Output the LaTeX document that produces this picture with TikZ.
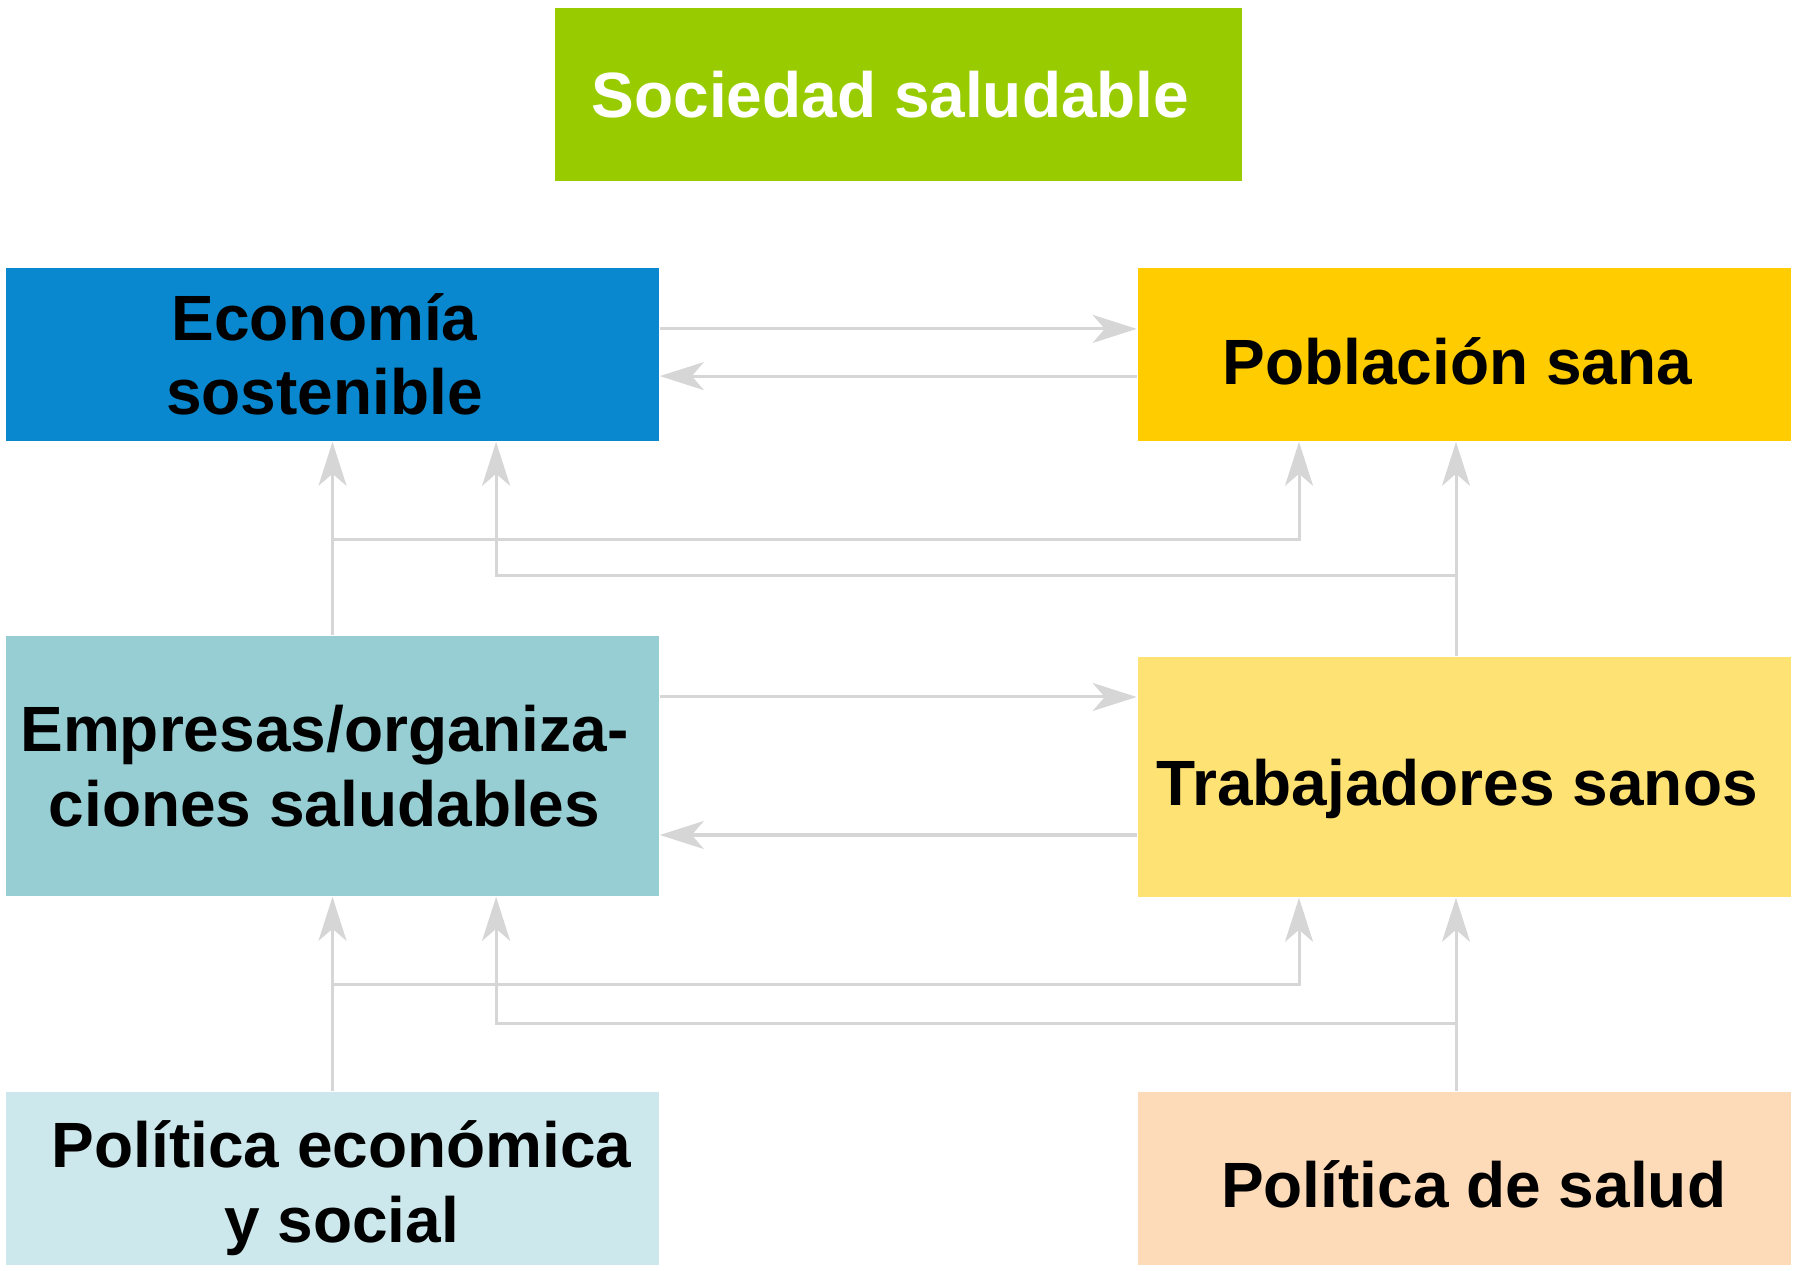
\documentclass[tikz,border=0pt]{standalone}
\usepackage{fontspec}
\setmainfont{Liberation Sans}
\usetikzlibrary{arrows.meta}
\definecolor{socgreen}{HTML}{99CC00}
\definecolor{ecoblue}{HTML}{0A88CF}
\definecolor{pobyellow}{HTML}{FFCC00}
\definecolor{empteal}{HTML}{96CED4}
\definecolor{trabyellow}{HTML}{FEE274}
\definecolor{pecyan}{HTML}{CDE8EC}
\definecolor{pspeach}{HTML}{FDDBB8}
\definecolor{linkgray}{HTML}{D6D6D6}
\newcommand{\nudged}[3]{\raisebox{#2}[\height][\depth]{\hspace*{#1}#3\hspace*{-#1}}}
\newcommand{\twolines}[2]{\begin{tabular}{@{}c@{}}#1\\#2\end{tabular}}
\begin{document}
\begin{tikzpicture}[x=0.25pt, y=-0.25pt,
    box/.style ={rectangle, inner sep=0pt, minimum width=163.25pt, minimum height=43.25pt,
                 align=center, font=\bfseries\fontsize{16}{18.6}\selectfont},
    link/.style ={draw=linkgray, line width=0.75pt},
    tip/.style ={link, -{Stealth[length=11pt, width=7pt, inset=3pt]}}]
   \useasboundingbox (0,0) rectangle (1798,1271);
   \node[box, fill=socgreen, text=white, minimum width=171.75pt] (soc) at (898.5,94.5) {\nudged{-2pt}{0pt}{Sociedad saludable}};
   \node[box, fill=ecoblue] (eco) at (332.5,354.5) {\nudged{-2pt}{-2pt}{\twolines{Economía}{sostenible}}};
   \node[box, fill=pobyellow] (pob) at (1464,354.5) {\nudged{-1.7pt}{-1.7pt}{Población sana}};
   \node[box, fill=empteal, minimum height=65pt] (emp) at (332.5,766) {\nudged{-2pt}{-2pt}{\twolines{Empresas/organiza-}{ciones saludables}}};
   \node[box, fill=trabyellow, minimum height=60pt] (trab) at (1464,777) {\nudged{-1.7pt}{-2.9pt}{Trabajadores sanos}};
   \node[box, fill=pecyan] (pe) at (332.5,1178.5) {\nudged{2.3pt}{-2.9pt}{\twolines{Política económica}{y social}}};
   \node[box, fill=pspeach] (ps) at (1464,1178.5) {\nudged{2.4pt}{-1.4pt}{Política de salud}};
   \coordinate (j1) at (332.5,540);
   \coordinate (j2) at (1456,576);
   \coordinate (j3) at (332.5,984);
   \coordinate (j4) at (1456,1023);
   \draw[tip] ([yshift=6.4pt]eco.east) -- ([yshift=6.4pt]pob.west);
   \draw[tip] ([yshift=-5.4pt]pob.west) -- ([yshift=-5.4pt]eco.east);
   \draw[tip] ([yshift=17.25pt]emp.east) -- ([yshift=20pt]trab.west);
   \draw[tip] ([yshift=-14.5pt]trab.west) -- ([yshift=-17.25pt]emp.east);
   \draw[tip] (emp.north) -- (eco.south);
   \draw[tip] ([xshift=-2pt]trab.north) -- ([xshift=-2pt]pob.south);
   \draw[tip] (j1) -| ([xshift=-41.25pt]pob.south);
   \draw[tip] (j2) -| ([xshift=40.9pt]eco.south);
   \draw[tip] (pe.north) -- (emp.south);
   \draw[tip] ([xshift=-2pt]ps.north) -- ([xshift=-2pt]trab.south);
   \draw[tip] (j3) -| ([xshift=-41.25pt]trab.south);
   \draw[tip] (j4) -| ([xshift=40.9pt]emp.south);
\end{tikzpicture}
\end{document}
